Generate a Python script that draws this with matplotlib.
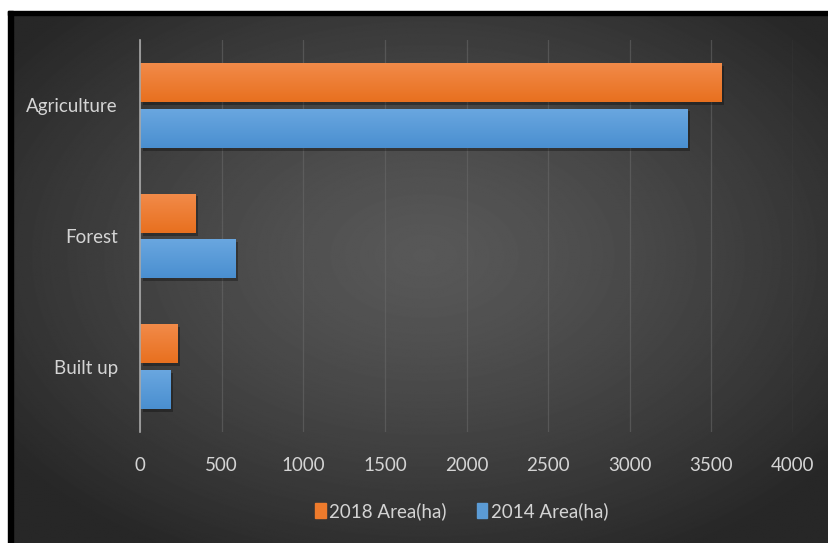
import numpy as np
import matplotlib.pyplot as plt
import matplotlib.patheffects as pe
from matplotlib.patches import Rectangle
from matplotlib.colors import LinearSegmentedColormap

categories = ['Built up', 'Forest', 'Agriculture']
area_2018 = [231, 337, 3560]
area_2014 = [188, 586, 3355]
series_names = ['2018 Area(ha)', '2014 Area(ha)']
x_ticks = [0, 500, 1000, 1500, 2000, 2500, 3000, 3500, 4000]

W, H = 829, 543
fig = plt.figure(figsize=(W / 100, H / 100), dpi=100)
fig.patch.set_facecolor('#282828')

font = ['Lato', 'DejaVu Sans']
text_col = '#d4d4d4'

# radial-shaded chart area, white margin and black frame on top/left
bg = fig.add_axes([0, 0, 1, 1], zorder=0)
yy, xx = np.mgrid[0:H - 15, 0:W - 13]
cx, cy = (W - 13) * 0.5, (H - 15) * 0.45
r = np.sqrt(((xx - cx) / (W * 0.62)) ** 2 + ((yy - cy) / (H * 0.62)) ** 2)
r = np.clip(r, 0, 1)
shade = 0x58 - (0x58 - 0x27) * r ** 1.3
bg.imshow(shade, cmap='gray', vmin=0, vmax=255, extent=(13, W + 6, H + 6, 15),
          aspect='auto', interpolation='bilinear', zorder=1)
bg.add_patch(Rectangle((-5, -5), W + 10, 16, color='white', zorder=2))
bg.add_patch(Rectangle((-5, -5), 13, H + 10, color='white', zorder=2))
bg.add_patch(Rectangle((8, 11), W + 10, 4, color='black', zorder=3))
bg.add_patch(Rectangle((8, 11), 5, H + 10, color='black', zorder=3))
bg.set_xlim(0, W)
bg.set_ylim(H, 0)
bg.axis('off')

left, right, top, bottom = 140, 793, 40, 432
ax = fig.add_axes([left / W, 1 - bottom / H, (right - left) / W, (bottom - top) / H],
                  zorder=1)
ax.patch.set_alpha(0)

ypos = np.arange(len(categories))
h = 0.3
off = 0.175


def grad_bars(y, vals, c_top, c_bot):
    bars = ax.barh(y, vals, height=h, color=c_bot, zorder=3,
                   path_effects=[pe.SimplePatchShadow(offset=(2, -2), shadow_rgbFace='black',
                                                      alpha=0.3),
                                 pe.Normal()])
    cmap = LinearSegmentedColormap.from_list('g', [c_bot, c_top])
    grad = np.linspace(0, 1, 64).reshape(-1, 1)
    for b in bars:
        x0, y0, w, hh = b.get_x(), b.get_y(), b.get_width(), b.get_height()
        im = ax.imshow(grad, cmap=cmap, extent=(x0, x0 + w, y0, y0 + hh),
                       origin='lower', aspect='auto', zorder=4)
        im.set_clip_path(b)
    return bars


grad_bars(ypos + off, area_2018, '#f28b4a', '#e8701f')
grad_bars(ypos - off, area_2014, '#6aa7e0', '#4a8fd0')

ax.set_xlim(0, 4000)
ax.set_ylim(-0.5, 2.5)
ax.set_xticks(x_ticks)
ax.set_xticklabels([str(t) for t in x_ticks])
ax.set_yticks(ypos)
ax.set_yticklabels(categories)
for lab in ax.get_xticklabels() + ax.get_yticklabels():
    lab.set_family(font)
    lab.set_fontsize(13.5)
    lab.set_color(text_col)
ax.tick_params(length=0)
ax.tick_params(axis='x', pad=18)
ax.tick_params(axis='y', pad=16)
ax.grid(axis='x', color='#6a6a6a', linewidth=0.9, alpha=0.55, zorder=1)
for s in ['top', 'right', 'bottom']:
    ax.spines[s].set_visible(False)
ax.spines['left'].set_color('#a8a8a8')
ax.spines['left'].set_linewidth(1.2)
ax.spines['left'].set_zorder(5)

handles = [Rectangle((0, 0), 1, 1, color='#ee7b2c'), Rectangle((0, 0), 1, 1, color='#5b9bd5')]
leg = fig.legend(handles, series_names, loc='center', bbox_to_anchor=(462 / W, 1 - 511 / H),
                 ncol=2, frameon=False, handlelength=0.55, handleheight=0.9,
                 handletextpad=0.2, columnspacing=1.6,
                 prop={'family': font, 'size': 13.5})
for t in leg.get_texts():
    t.set_color(text_col)

fig.savefig('out.png', dpi=100, facecolor=fig.get_facecolor())
